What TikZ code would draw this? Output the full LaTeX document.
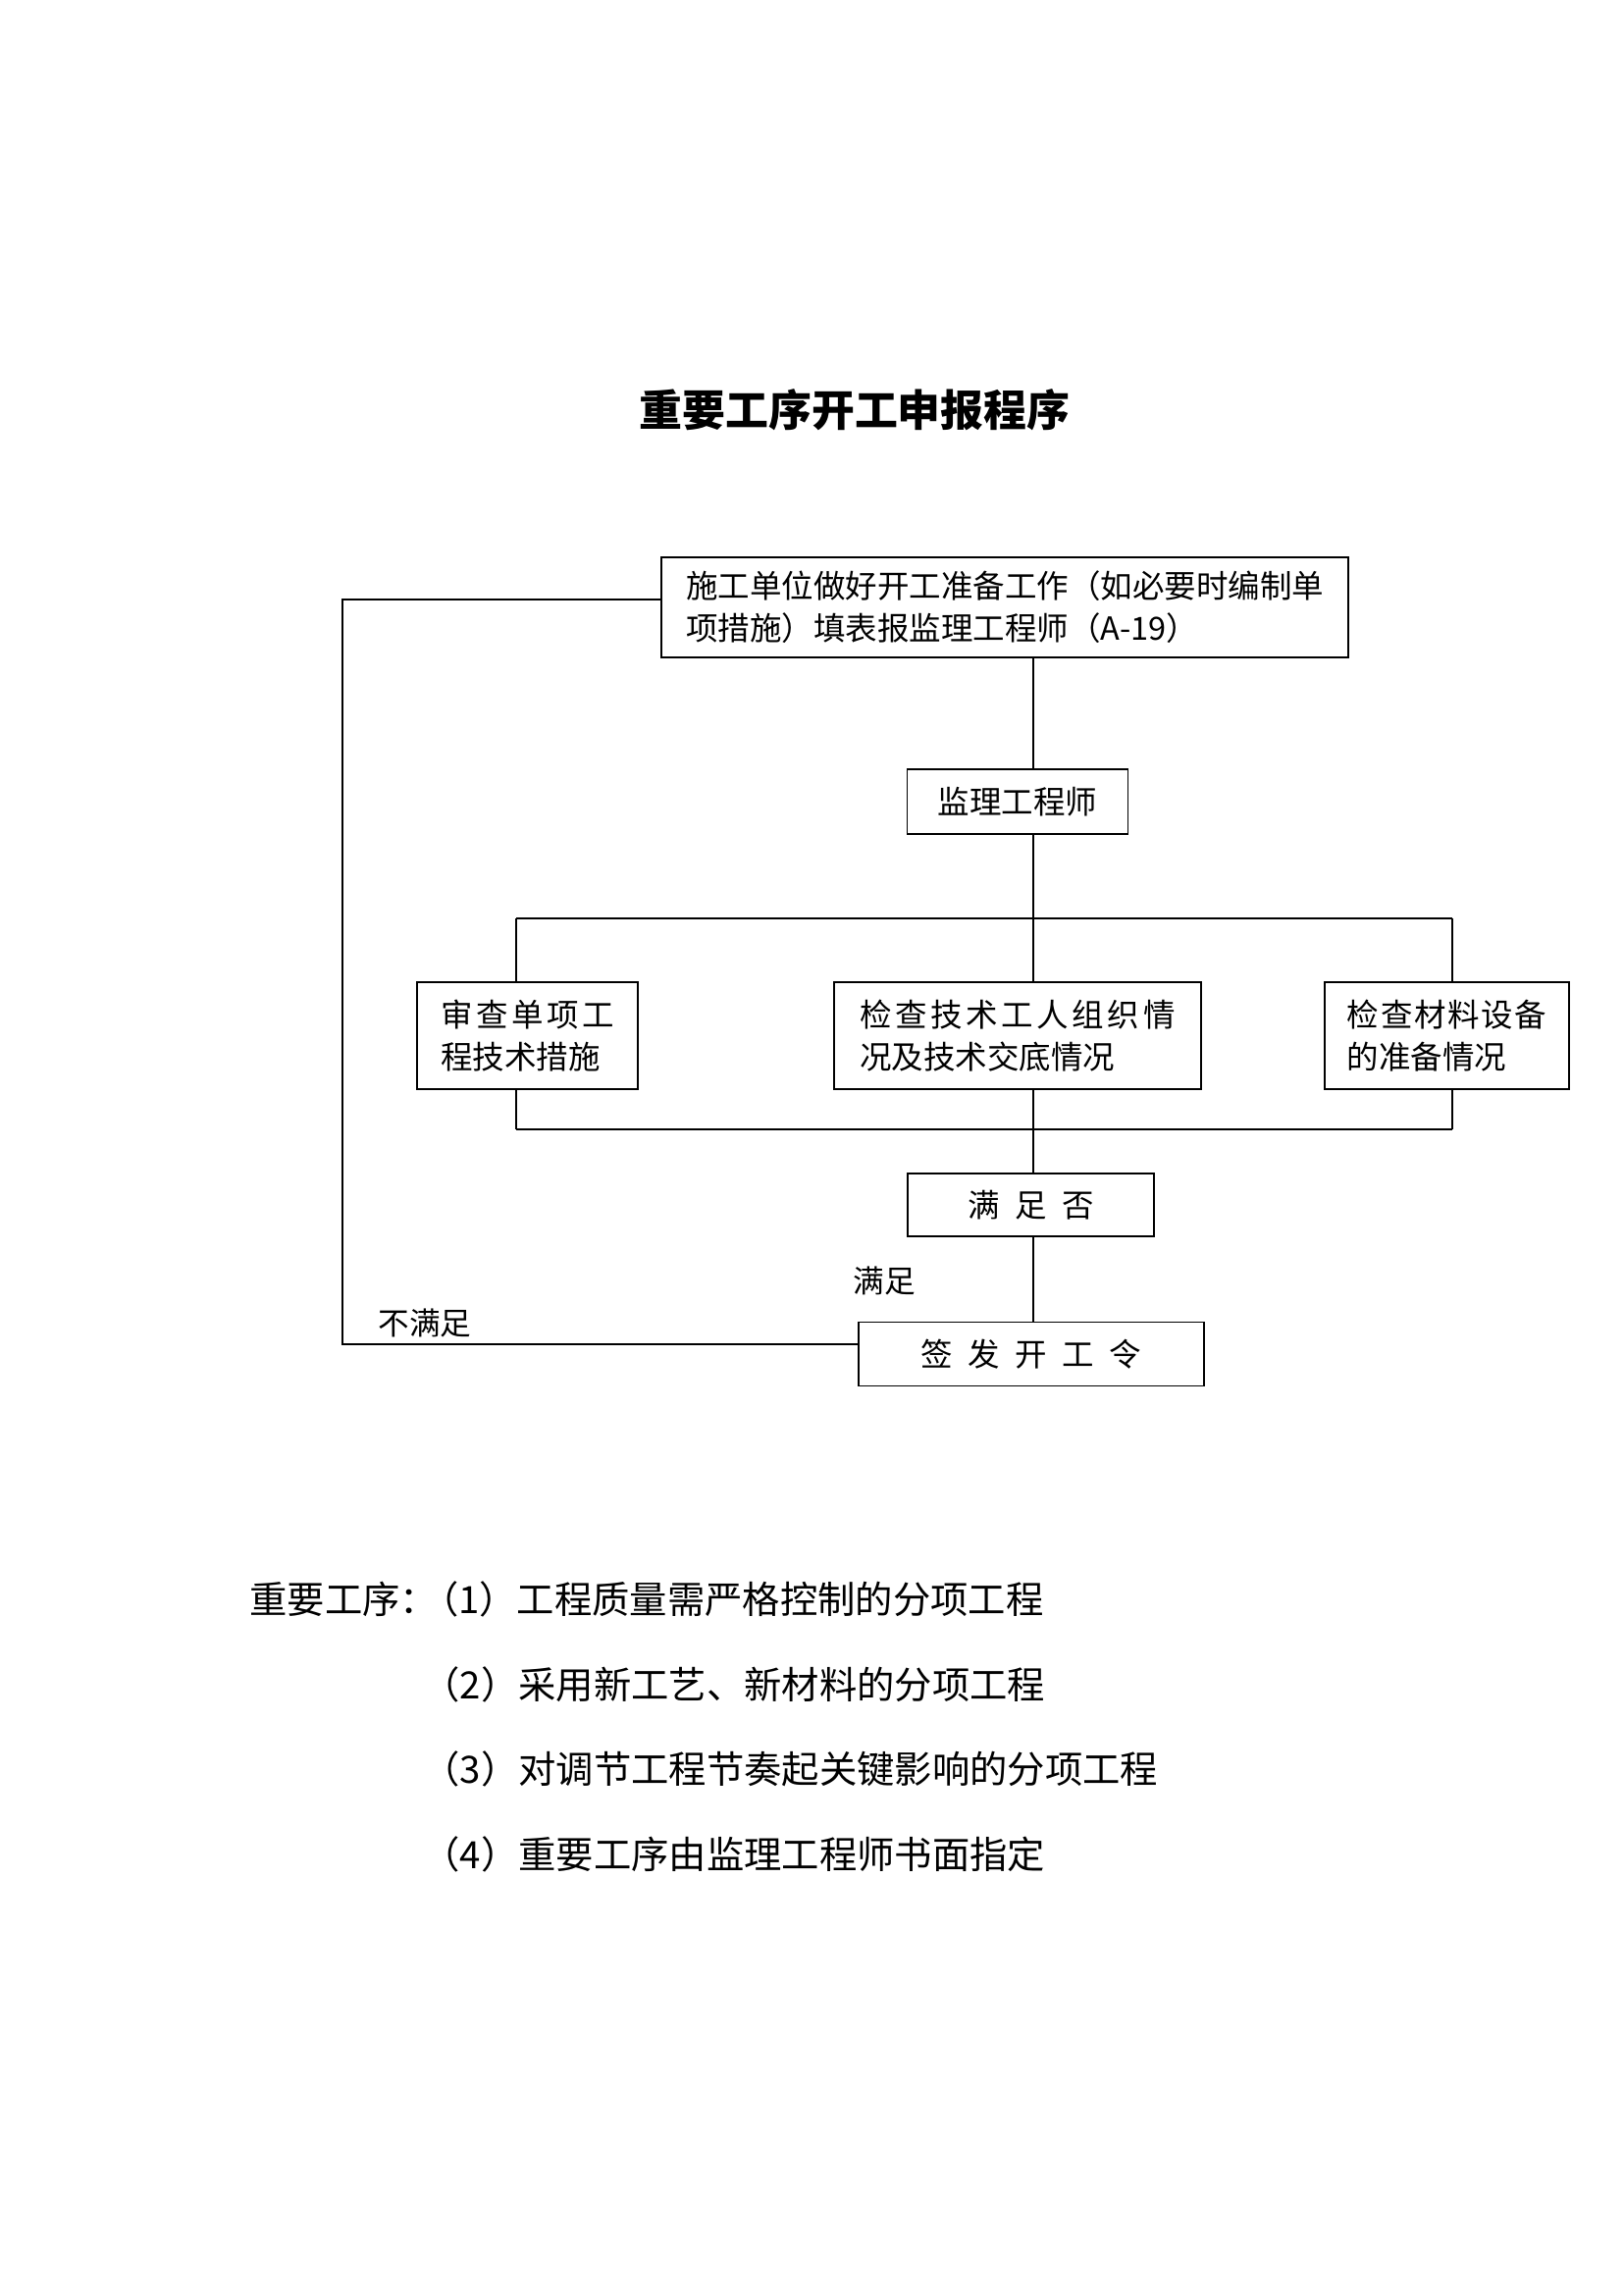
\documentclass[tikz,border=0pt]{standalone}
\usepackage{fontspec}
\setmainfont{Noto Sans CJK SC}
\newfontfamily\widecjk[LetterSpace=11]{Noto Sans CJK SC}
\newfontfamily\midcjk[LetterSpace=5]{Noto Sans CJK SC}
\newcommand\gp{\hspace{5.6pt}}
\begin{document}
\begin{tikzpicture}[x=0.36pt,y=-0.36pt,
  box/.style={draw,line width=0.7pt,inner xsep=0pt,inner ysep=0pt,align=left,
    font=\fontsize{11.7pt}{15.5pt}\selectfont},
  conn/.style={line width=0.45pt},
  bus/.style={line width=0.6pt},
  lab/.style={inner sep=0pt,font=\fontsize{11.4pt}{13pt}\selectfont},
  note/.style={inner sep=0pt,font=\fontsize{13.8pt}{16pt}\selectfont},
  ttl/.style={inner sep=0pt,font=\fontsize{15.8pt}{18pt}\selectfont\bfseries}]
\fill[white] (0,0) rectangle (1654,2339);
\useasboundingbox (0,0) rectangle (1654,2339);

\node[ttl] (title) at (871,418) {重要工序开工申报程序};

\node[box,minimum width=252pt,minimum height=36.72pt] (top) at (1024,619)
  {施工单位做好开工准备工作（如必要时编制单\\项措施）填表报监理工程师（A-19）};
\node[box,align=center,minimum width=81pt,minimum height=23.76pt] (jl) at (1037,817) {监理工程师};
\node[box,minimum width=81pt,minimum height=39.24pt] (b1) at (537.5,1055.5)
  {\widecjk 审查单项工\\程技术措施};
\node[box,minimum width=134.64pt,minimum height=39.24pt] (b2) at (1037,1055.5)
  {\widecjk 检查技术工人组织情\\况及技术交底情况};
\node[box,minimum width=89.64pt,minimum height=39.24pt] (b3) at (1474.5,1055.5)
  {\midcjk 检查材料设备\\的准备情况};
\node[box,align=center,minimum width=90.36pt,minimum height=23.04pt] (qf) at (1050.5,1228)
  {满\gp 足\gp 否};
\node[box,align=center,minimum width=126.72pt,minimum height=23.4pt] (qs) at (1051,1380)
  {签\gp 发\gp 开\gp 工\gp 令};

\coordinate (sp) at (1053,0);
\coordinate (bt1) at (526,936);
\coordinate (bt2) at (1053,936);
\coordinate (bt3) at (1480,936);
\coordinate (bb1) at (526,1151);
\coordinate (bb2) at (1053,1151);
\coordinate (bb3) at (1480,1151);
\coordinate (l1) at (349,611);
\coordinate (l2) at (349,1370);

\draw[conn] (top.south -| sp) -- (jl.north -| sp);
\draw[conn] (jl.south -| sp) -- (bt2);
\draw[bus] (bt1) -- (bt3);
\draw[conn] (bt1) -- (b1.north -| bt1);
\draw[conn] (bt2) -- (b2.north -| bt2);
\draw[conn] (bt3) -- (b3.north -| bt3);
\draw[conn] (b1.south -| bb1) -- (bb1);
\draw[conn] (b2.south -| bb2) -- (bb2);
\draw[conn] (b3.south -| bb3) -- (bb3);
\draw[bus] (bb1) -- (bb3);
\draw[conn] (bb2) -- (qf.north -| bb2);
\draw[conn] (qf.south -| bb2) -- (qs.north -| bb2);
\draw[conn] (top.west |- l1) -- (l1) -- (l2) -- (qs.west |- l2);

\node[lab,anchor=west] (lm) at (869,1305) {满足};
\node[lab,anchor=west] (lbm) at (385,1348) {不满足};

\node[note,anchor=west] (n1) at (254,1630) {重要工序：\kern-0.45em（1）工程质量需严格控制的分项工程};
\node[note,anchor=west] (n2) at (430,1717) {（2）采用新工艺、新材料的分项工程};
\node[note,anchor=west] (n3) at (430,1803) {（3）对调节工程节奏起关键影响的分项工程};
\node[note,anchor=west] (n4) at (430,1890) {（4）重要工序由监理工程师书面指定};
\end{tikzpicture}
\end{document}
